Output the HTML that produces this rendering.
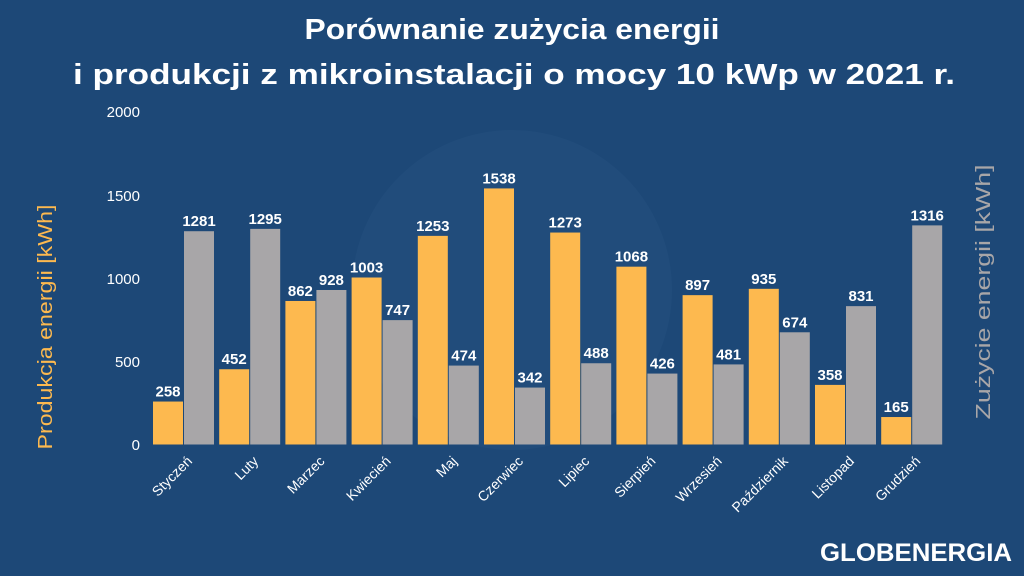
<!DOCTYPE html>
<html><head><meta charset="utf-8"><style>
body{margin:0;width:1024px;height:576px;overflow:hidden;background:#1d4877;}
svg{display:block;font-family:"Liberation Sans",sans-serif;}
</style></head><body>
<svg width="1024" height="576" viewBox="0 0 1024 576">
<rect width="1024" height="576" fill="#1d4877"/>
<circle cx="512" cy="290" r="160" fill="#24507f" opacity="0.6"/>
<text x="512" y="39" text-anchor="middle" fill="#fff" font-size="29" font-weight="bold" textLength="415" lengthAdjust="spacingAndGlyphs">Porównanie zużycia energii</text>
<text x="514" y="84" text-anchor="middle" fill="#fff" font-size="29" font-weight="bold" textLength="882" lengthAdjust="spacingAndGlyphs">i produkcji z mikroinstalacji o mocy 10 kWp w 2021 r.</text>
<g fill="#fff" font-size="15" text-anchor="end">
<text x="140" y="117">2000</text><text x="140" y="201">1500</text><text x="140" y="284">1000</text><text x="140" y="367">500</text><text x="140" y="450">0</text>
</g>
<text transform="translate(52,327) rotate(-90)" text-anchor="middle" fill="#fdb94f" font-size="20" textLength="245" lengthAdjust="spacingAndGlyphs">Produkcja energii [kWh]</text>
<text transform="translate(990,292) rotate(-90)" text-anchor="middle" fill="#a8a6a8" font-size="20" textLength="255" lengthAdjust="spacingAndGlyphs">Zużycie energii [kWh]</text>
<g id="bars"></g>
<text x="1012" y="561" text-anchor="end" fill="#fff" font-size="25" font-weight="bold" textLength="192" lengthAdjust="spacingAndGlyphs">GLOBENERGIA</text>
</svg>
<script>
var d=[["Styczeń",258,1281],["Luty",452,1295],["Marzec",862,928],["Kwiecień",1003,747],["Maj",1253,474],["Czerwiec",1538,342],["Lipiec",1273,488],["Sierpień",1068,426],["Wrzesień",897,481],["Październik",935,674],["Listopad",358,831],["Grudzień",165,1316]];
var g=document.getElementById('bars'),s='',b=444.5,k=0.1665;
d.forEach(function(r,i){var x=153+i*66.2;
var h1=r[1]*k,h2=r[2]*k;
s+='<rect x="'+x+'" y="'+(b-h1)+'" width="30" height="'+h1+'" fill="#fdb94f"/>';
s+='<rect x="'+(x+31)+'" y="'+(b-h2)+'" width="30" height="'+h2+'" fill="#a8a6a8"/>';
s+='<text x="'+(x+15)+'" y="'+(b-h1-5)+'" text-anchor="middle" fill="#fff" font-size="15" font-weight="bold">'+r[1]+'</text>';
s+='<text x="'+(x+46)+'" y="'+(b-h2-5)+'" text-anchor="middle" fill="#fff" font-size="15" font-weight="bold">'+r[2]+'</text>';
s+='<text transform="translate('+(x+40)+',462) rotate(-45)" text-anchor="end" fill="#fff" font-size="14">'+r[0]+'</text>';
});
g.innerHTML=s;
</script>
</body></html>
